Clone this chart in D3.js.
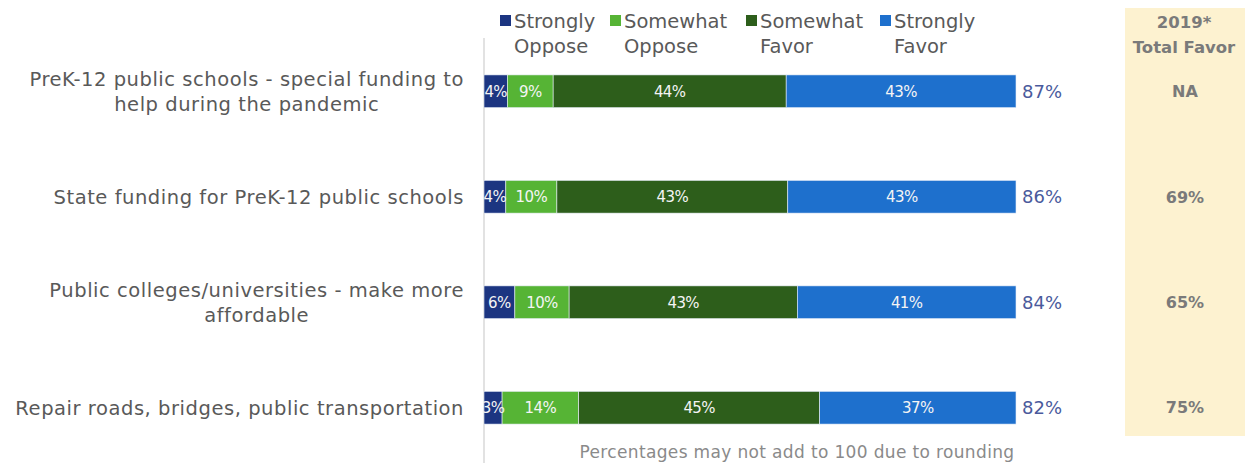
<!DOCTYPE html>
<html>
<head>
<meta charset="utf-8">
<script src="https://cdn.jsdelivr.net/npm/d3@7"></script>
<style>
  body { margin: 0; background: #fff; }
  text { font-family: "DejaVu Sans", sans-serif; }
</style>
</head>
<body>
<div id="chart"></div>
<script>
// data
const categories = [
    ["PreK-12 public schools - special funding to", "help during the pandemic"],
    ["State funding for PreK-12 public schools"],
    ["Public colleges/universities - make more", "affordable"],
    ["Repair roads, bridges, public transportation"]
];
const seriesNames = [["Strongly", "Oppose"], ["Somewhat", "Oppose"], ["Somewhat", "Favor"], ["Strongly", "Favor"]];
const stronglyOppose = [4.4, 4.1, 5.8, 3.4];
const somewhatOppose = [8.6, 9.6, 10.2, 14.4];
const somewhatFavor = [43.8, 43.4, 42.9, 45.3];
const stronglyFavor = [43.2, 42.9, 41.1, 36.9];
const totalFavor = ["87%", "86%", "84%", "82%"];
const favor2019 = ["NA", "69%", "65%", "75%"];
const colors = ["#1c3581", "#56b435", "#2d5e1b", "#1e70cd"];

const width = 1248, height = 463;

let svg = d3.select('#chart')
    .append('svg')
    .attr('width', width)
    .attr('height', height);

let x = d3.scaleLinear().domain([0, 100]).range([484, 1016]);
let y = d3.scaleBand()
    .domain(d3.range(categories.length))
    .range([38, 461])
    .paddingInner(0.69)
    .paddingOuter(0.35);

// 2019 panel background
svg.append('rect')
    .attr('x', 1125).attr('y', 8)
    .attr('width', 120).attr('height', 428)
    .attr('fill', '#fdf2d0');

// vertical axis line
svg.append('line')
    .attr('x1', x(0)).attr('x2', x(0))
    .attr('y1', 38).attr('y2', height)
    .attr('stroke', '#d9d9d9').attr('stroke-width', 1.5);

// stacked rows
let rows = categories.map(function(c, i){
    return [stronglyOppose[i], somewhatOppose[i], somewhatFavor[i], stronglyFavor[i]];
});

rows.forEach(function(vals, i){
    let acc = 0;
    let segs = vals.map(function(v, k){
        let s = {start: acc, end: acc + v, value: v, k: k};
        acc += v;
        return s;
    });
    let g = svg.append('g').attr('class', 'row');
    g.selectAll('rect')
        .data(segs)
        .enter().append('rect')
        .attr('x', function(d){ return x(d.start); })
        .attr('y', y(i))
        .attr('width', function(d){ return x(d.end) - x(d.start); })
        .attr('height', y.bandwidth())
        .attr('fill', function(d){ return colors[d.k]; })
        .attr('stroke', '#e8eef8')
        .attr('stroke-width', 0.6);
    g.selectAll('text.seg')
        .data(segs)
        .enter().append('text')
        .attr('class', 'seg')
        .attr('x', function(d){ return (x(d.start) + x(d.end)) / 2; })
        .attr('y', y(i) + y.bandwidth() / 2)
        .attr('dy', '0.36em')
        .attr('text-anchor', 'middle')
        .attr('fill', '#f4f4f4')
        .attr('font-size', 15)
        .attr('letter-spacing', -0.6)
        .text(function(d){ return Math.round(d.value) + '%'; });

    // total favor at bar end
    g.append('text')
        .attr('x', x(100) + 6)
        .attr('y', y(i) + y.bandwidth() / 2)
        .attr('dy', '0.36em')
        .attr('fill', '#4a5a9c')
        .attr('font-size', 18)
        .text(totalFavor[i]);

    // category label: lines centred on each other, block right-aligned
    let lines = categories[i];
    let lab = g.append('text')
        .attr('fill', '#595959')
        .attr('font-size', 19.5)
        .attr('letter-spacing', 0.55);
    let cy = y(i) + y.bandwidth() / 2 - (lines.length - 1) * 12.5;
    let spans = lines.map(function(t, j){
        return lab.append('tspan')
            .attr('y', cy + j * 25)
            .attr('dy', '0.36em')
            .text(t);
    });
    let w = d3.max(spans, function(s){ return s.node().getComputedTextLength(); });
    spans.forEach(function(s){
        s.attr('text-anchor', 'middle').attr('x', 464 - w / 2);
    });

    // 2019 value
    g.append('text')
        .attr('x', 1185)
        .attr('y', y(i) + y.bandwidth() / 2)
        .attr('dy', '0.36em')
        .attr('text-anchor', 'middle')
        .attr('fill', '#7a7a7a')
        .attr('font-weight', 'bold')
        .attr('font-size', 16)
        .text(favor2019[i]);
});

// legend
let legendX = [500, 610, 746, 880];
let legend = svg.selectAll('.legend')
    .data(seriesNames)
    .enter().append('g')
    .attr('class', 'legend')
    .attr('transform', function(d, i){ return 'translate(' + legendX[i] + ',0)'; });
legend.append('rect')
    .attr('x', 0).attr('y', 15)
    .attr('width', 11).attr('height', 11)
    .attr('fill', function(d, i){ return colors[i]; });
legend.each(function(d){
    let t = d3.select(this).append('text')
        .attr('fill', '#595959')
        .attr('font-size', 19.5);
    d.forEach(function(s, j){
        t.append('tspan')
            .attr('x', 14)
            .attr('y', 28 + j * 25)
            .text(s);
    });
});

// 2019 header
let hdr = svg.append('text')
    .attr('text-anchor', 'middle')
    .attr('fill', '#7a7a7a')
    .attr('font-weight', 'bold')
    .attr('font-size', 16.5);
["2019*", "Total Favor"].forEach(function(s, j){
    hdr.append('tspan').attr('x', 1184).attr('y', 28 + j * 25).text(s);
});

// footnote
svg.append('text')
    .attr('x', 797)
    .attr('y', 458)
    .attr('text-anchor', 'middle')
    .attr('fill', '#8a8a8a')
    .attr('font-size', 17)
    .attr('letter-spacing', 0.35)
    .text('Percentages may not add to 100 due to rounding');
</script>
</body>
</html>
